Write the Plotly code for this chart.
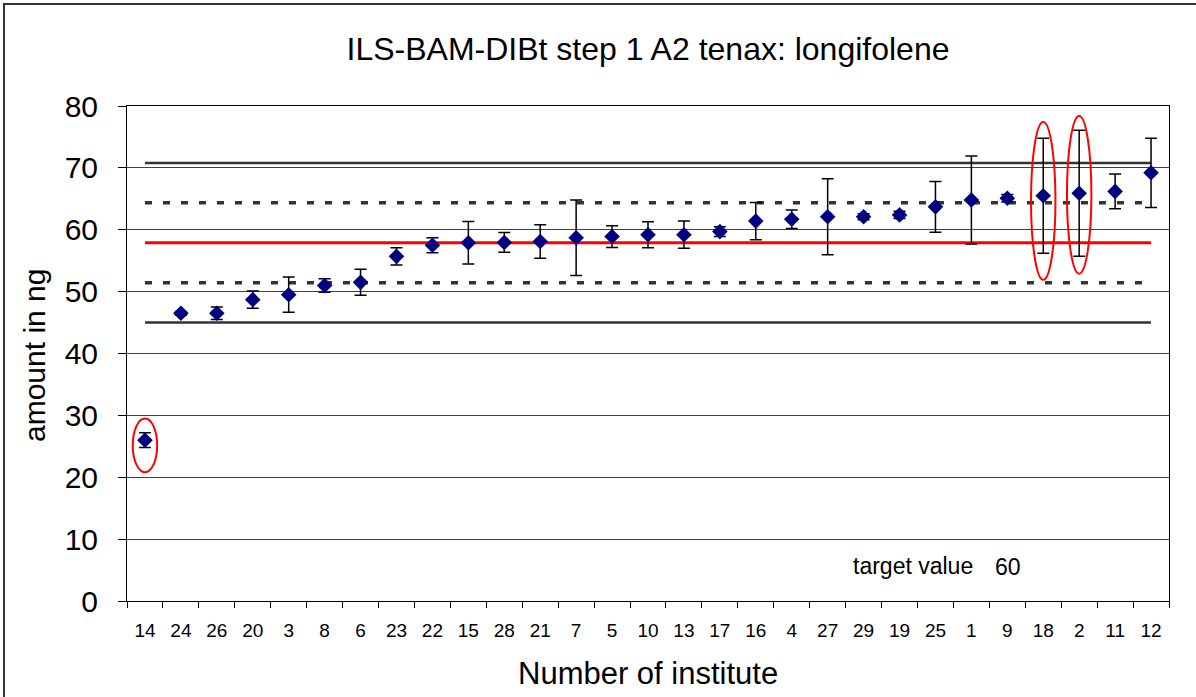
import plotly.graph_objects as go

institutes = ["14", "24", "26", "20", "3", "8", "6", "23", "22", "15", "28", "21", "7", "5",
              "10", "13", "17", "16", "4", "27", "29", "19", "25", "1", "9", "18", "2", "11", "12"]
amounts = [26.0, 46.5, 46.5, 48.7, 49.5, 51.0, 51.5, 55.7, 57.5, 57.9, 57.95, 58.1, 58.7, 58.9,
           59.2, 59.2, 59.7, 61.4, 61.7, 62.1, 62.1, 62.4, 63.7, 64.8, 65.1, 65.5, 65.9, 66.2, 69.2]
errors = [1.2, 0.3, 1.0, 1.4, 2.85, 1.1, 2.1, 1.4, 1.2, 3.45, 1.6, 2.7, 6.1, 1.75,
          2.1, 2.2, 0.8, 3.0, 1.5, 6.15, 0.5, 0.6, 4.1, 7.1, 0.6, 9.3, 10.2, 2.8, 5.6]

mean_value = 57.9
inner_low, inner_high = 51.45, 64.35
outer_low, outer_high = 45.0, 70.8
target_value = 60

# outlier ellipses: (category index, y low, y high)
outliers = [(0, 20.8, 29.5), (25, 51.9, 77.4), (26, 52.9, 78.4)]

FONT = "Liberation Sans, Arial, sans-serif"

W, H = 1196, 697
L, R, T, B = 127, 27, 106, 96
PW, PH = W - L - R, H - T - B


def px_x(p):
    return (p - L) / PW


def px_y(p):
    return (H - B - p) / PH


fig = go.Figure()

n = len(institutes)
for val, dash, color, width in [
    (outer_high, "solid", "#333333", 2.5),
    (outer_low, "solid", "#333333", 2.5),
    (inner_high, "7px,11px", "#333333", 3.5),
    (inner_low, "7px,11px", "#333333", 3.5),
    (mean_value, "solid", "#ff0000", 3),
]:
    fig.add_trace(go.Scatter(x=institutes, y=[val] * n, mode="lines",
                             line=dict(color=color, width=width, dash=dash),
                             hoverinfo="skip", showlegend=False))

fig.add_trace(go.Scatter(
    x=institutes, y=amounts, mode="markers",
    marker=dict(symbol="diamond", size=12, color="#000080"),
    error_y=dict(type="data", array=errors, visible=True, color="black", thickness=1.5, width=6),
    showlegend=False))

for idx, y0, y1 in outliers:
    fig.add_shape(type="circle", xref="x", yref="y", x0=idx - 0.34, x1=idx + 0.34,
                  y0=y0, y1=y1, line=dict(color="#ff0000", width=2))

# outer chart border
fig.add_shape(type="rect", xref="paper", yref="paper", x0=px_x(4), x1=px_x(1210),
              y0=px_y(710), y1=px_y(4), line=dict(color="#333333", width=2))

fig.add_annotation(xref="paper", yref="paper", x=px_x(851), y=px_y(566), xanchor="left",
                   yanchor="middle", text="target value", showarrow=False,
                   font=dict(size=23, family=FONT, color="black"))
fig.add_annotation(xref="paper", yref="paper", x=px_x(993), y=px_y(567), xanchor="left",
                   yanchor="middle", text=str(target_value), showarrow=False,
                   font=dict(size=23, family=FONT, color="black"))

# axis titles
fig.add_annotation(xref="paper", yref="paper", x=0.5, y=px_y(673), xanchor="center",
                   yanchor="middle", text="Number of institute", showarrow=False,
                   font=dict(size=31, family=FONT, color="black"))
fig.add_annotation(xref="paper", yref="paper", x=px_x(34), y=px_y(356), xanchor="center",
                   yanchor="middle", text="amount in ng", textangle=-90, showarrow=False,
                   font=dict(size=30, family=FONT, color="black"))

fig.update_layout(
    width=W, height=H,
    margin=dict(l=L, r=R, t=T, b=B),
    paper_bgcolor="white", plot_bgcolor="white",
    font=dict(family=FONT, color="black"),
    title=dict(text="ILS-BAM-DIBt step 1 A2 tenax: longifolene", x=0.5, xref="paper",
               y=1 - 49 / H, yanchor="middle", font=dict(size=32, family=FONT)),
    xaxis=dict(type="category", tickson="boundaries", ticks="outside", ticklen=6,
               tickcolor="black", showline=True, linecolor="black", linewidth=1, mirror=True,
               showgrid=False, tickfont=dict(size=19), range=[-0.5, n - 0.5],
               ticklabelstandoff=12),
    yaxis=dict(range=[0, 80], dtick=10, ticks="outside", ticklen=8, tickcolor="black",
               showline=True, linecolor="black", linewidth=1, mirror=True,
               showgrid=True, gridcolor="#404040", gridwidth=1, zeroline=False,
               tickfont=dict(size=30), ticklabelstandoff=14),
)

fig.write_html("out.html", config={"displayModeBar": False},
               post_script="document.body.style.margin='0px';")
